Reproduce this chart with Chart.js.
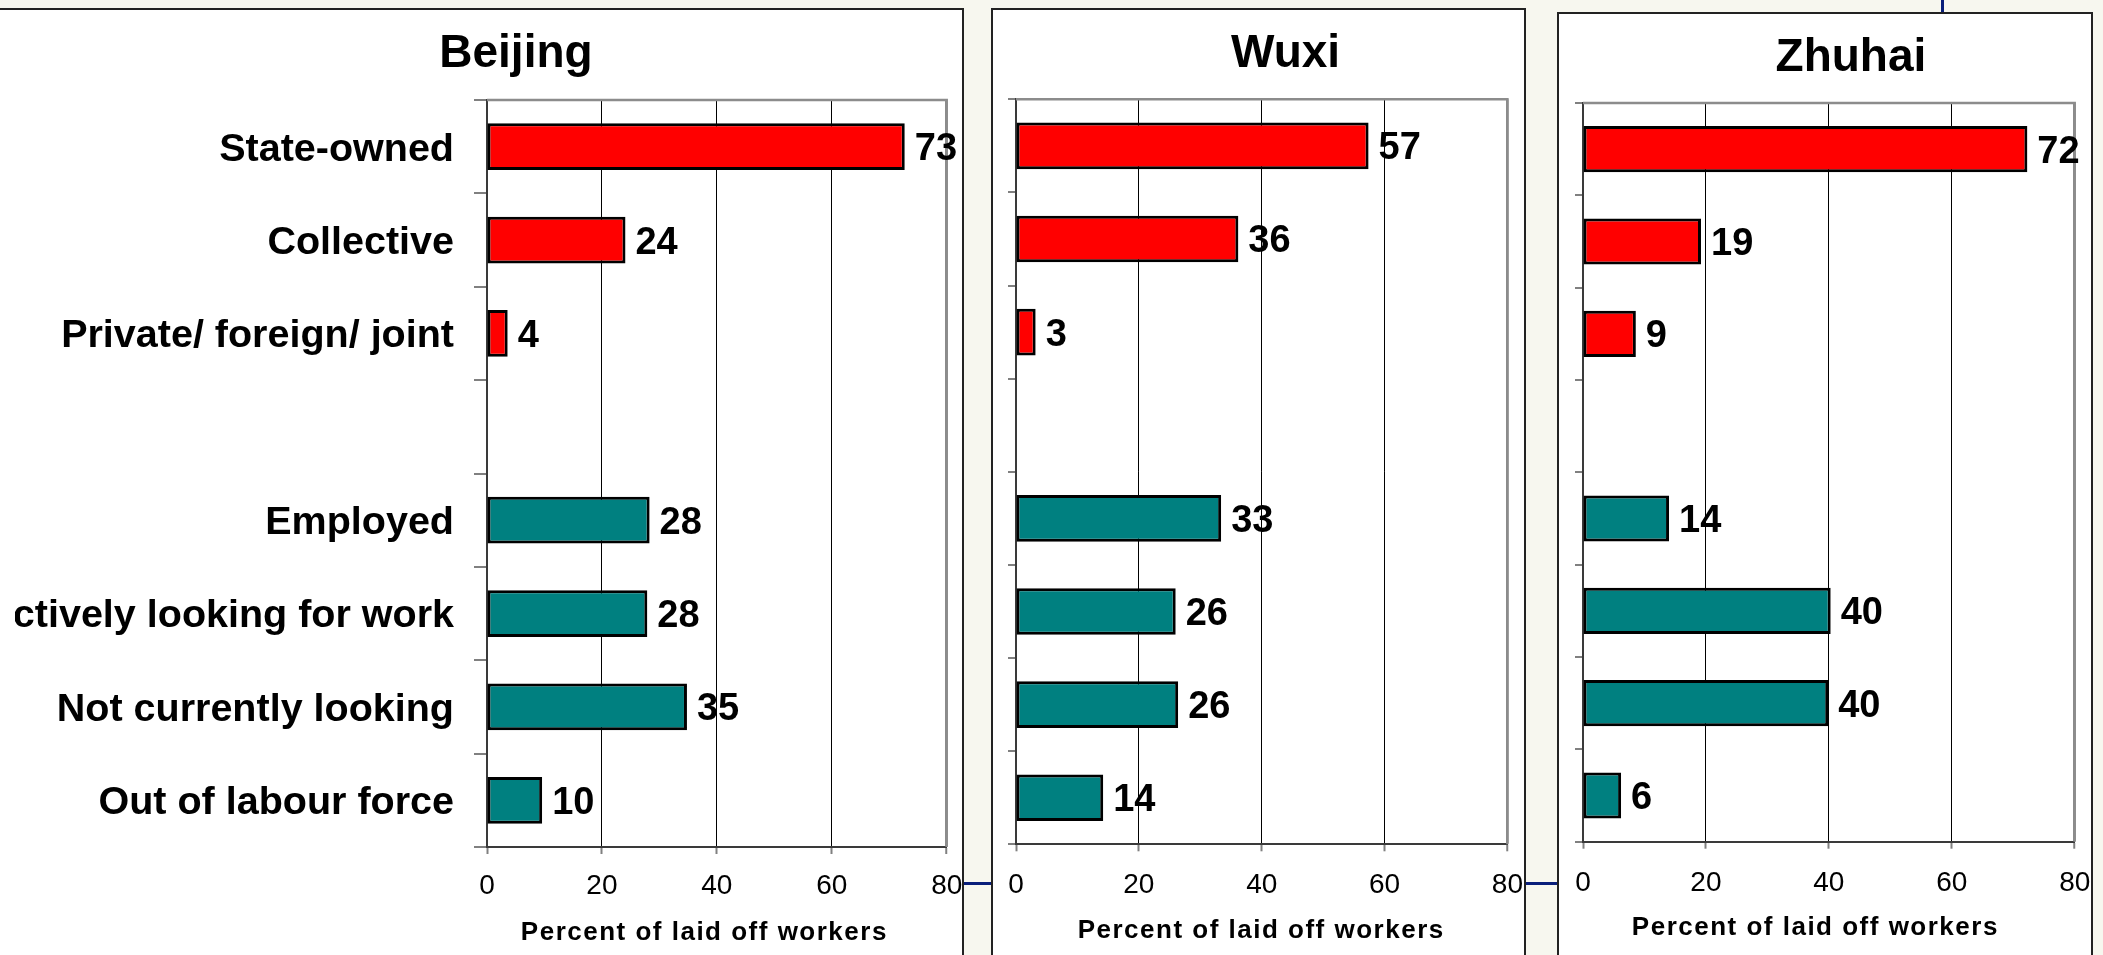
<!DOCTYPE html>
<html>
<head>
<meta charset="utf-8">
<script src="https://cdn.jsdelivr.net/npm/chart.js@4.4.1/dist/chart.umd.min.js"></script>
<style>
  html, body { margin: 0; padding: 0; width: 2103px; height: 955px; overflow: hidden; background: #F7F7EF; }
  .panel { position: absolute; background: #ffffff; border: 2px solid #222; box-sizing: border-box; }
  .cv { position: absolute; }
  .navy { position: absolute; background: #0a1f7a; }
</style>
</head>
<body>
<div class="navy" style="left:1941px; top:0; width:3px; height:14px;"></div>
<div class="navy" style="left:950px; top:882px; width:620px; height:3px;"></div>

<div class="panel" style="left:-10px; top:8px; width:974px; height:960px;"></div>
<div class="panel" style="left:991px; top:8px; width:535px; height:960px;"></div>
<div class="panel" style="left:1557px; top:12px; width:536px; height:960px;"></div>

<canvas id="cBeijing" class="cv" width="962" height="945" style="left:0px; top:10px; clip-path: inset(0 0 0 15px);"></canvas>
<canvas id="cWuxi" class="cv" width="531" height="945" style="left:993px; top:10px;"></canvas>
<canvas id="cZhuhai" class="cv" width="532" height="941" style="left:1559px; top:14px;"></canvas>

<script>
// ---------------- data ----------------
const categories = [
  'State-owned',
  'Collective',
  'Private/ foreign/ joint',
  '',
  'Employed',
  'Actively looking for work',
  'Not currently looking',
  'Out of labour force'
];
const groups = ['ownership', 'ownership', 'ownership', null, 'status', 'status', 'status', 'status'];
const cityNames = ['Beijing', 'Wuxi', 'Zhuhai'];
const beijingValues = [72.7, 24.1, 3.6, null, 28.3, 27.9, 34.8, 9.6];
const wuxiValues    = [57.4, 36.2, 3.2, null, 33.4, 26.0, 26.4, 14.2];
const zhuhaiValues  = [72.3, 19.2, 8.6, null, 14.0, 40.3, 39.9, 6.2];
const xTicks = [0, 20, 40, 60, 80];
const xAxisTitle = 'Percent of laid off workers';

// ---------------- styles ----------------
const FONT = "'Liberation Sans', Arial, Helvetica, sans-serif";
Chart.defaults.font.family = FONT;
const groupColors = { ownership: '#FF0000', status: '#008080' };

const layouts = {
  Beijing: { id: 'cBeijing', values: beijingValues, yW: 487, pr: 15.3, tPadTop: 16.4, tPadBottom: 18.4,
             xH: 108, tickPad: 15.2, xTitlePb: 6.9, titleShift: 42.6, xTitleShift: -12.5, yTick: 13, showLabels: true },
  Wuxi:    { id: 'cWuxi', values: wuxiValues, yW: 23, pr: 16.6, tPadTop: 16.4, tPadBottom: 17.7,
             xH: 110.7, tickPad: 16.9, xTitlePb: 8.4, titleShift: 35.4, xTitleShift: -0.5, yTick: 8, showLabels: false },
  Zhuhai:  { id: 'cZhuhai', values: zhuhaiValues, yW: 24, pr: 16.3, tPadTop: 16.9, tPadBottom: 16.9,
             xH: 113.3, tickPad: 17.8, xTitlePb: 11.1, titleShift: 34.1, xTitleShift: -13.5, yTick: 8, showLabels: false }
};

// ---------------- plugins ----------------
const titleShiftPlugin = {
  id: 'titleShift',
  afterLayout(chart, args, opts) {
    const tb = chart.titleBlock;
    if (tb && opts.shift) { tb.left += opts.shift; tb.right += opts.shift; }
  }
};

const xTitleStylePlugin = {
  id: 'xTitleStyle',
  beforeDraw(chart, args, opts) {
    const sc = chart.scales.x;
    if (sc && !sc._styledTitle) {
      const orig = sc.drawTitle.bind(sc);
      sc.drawTitle = function () {
        const ctx = this.ctx;
        ctx.save();
        try { ctx.letterSpacing = (opts.spacing || 0) + 'px'; } catch (e) {}
        ctx.translate(opts.shift || 0, 0);
        orig();
        ctx.restore();
      };
      sc._styledTitle = true;
    }
  }
};

const plotFramePlugin = {
  id: 'plotFrame',
  beforeDatasetsDraw(chart) {
    const { ctx, chartArea: a } = chart;
    ctx.save();
    ctx.strokeStyle = '#8c8c8c';
    ctx.lineWidth = 2.5;
    ctx.beginPath();
    ctx.moveTo(a.left, a.top);
    ctx.lineTo(a.right, a.top);
    ctx.lineTo(a.right, a.bottom);
    ctx.stroke();
    ctx.restore();
  }
};

const valueLabelPlugin = {
  id: 'valueLabels',
  afterDatasetsDraw(chart, args, opts) {
    const { ctx } = chart;
    const ds = chart.data.datasets[0];
    const meta = chart.getDatasetMeta(0);
    ctx.save();
    ctx.font = 'bold ' + opts.size + 'px ' + FONT;
    ctx.fillStyle = '#000';
    ctx.textAlign = 'left';
    ctx.textBaseline = 'middle';
    meta.data.forEach((bar, i) => {
      const v = ds.data[i];
      if (v === null || v === undefined) return;
      ctx.fillText(String(Math.round(v)), bar.x + opts.offset, bar.y + opts.dy);
    });
    ctx.restore();
  }
};

// ---------------- charts ----------------
function makeChart(city) {
  const L = layouts[city];
  const colors = groups.map(g => g ? groupColors[g] : 'rgba(0,0,0,0)');
  return new Chart(document.getElementById(L.id), {
    type: 'bar',
    data: {
      labels: categories,
      datasets: [{
        data: L.values,
        backgroundColor: colors,
        borderColor: '#000000',
        borderWidth: 3,
        borderSkipped: false,
        barPercentage: 0.5,
        categoryPercentage: 1.0
      }]
    },
    options: {
      indexAxis: 'y',
      responsive: false,
      maintainAspectRatio: false,
      animation: false,
      devicePixelRatio: 1,
      layout: { padding: { left: 0, right: L.pr, top: 0, bottom: 0 } },
      plugins: {
        legend: { display: false },
        tooltip: { enabled: false },
        title: {
          display: true,
          text: city,
          color: '#000',
          font: { family: FONT, size: 46, weight: 'bold', lineHeight: 1.2 },
          padding: { top: L.tPadTop, bottom: L.tPadBottom }
        },
        titleShift: { shift: L.titleShift },
        xTitleStyle: { spacing: 1.5, shift: L.xTitleShift },
        valueLabels: { size: 38, offset: 10, dy: 3 }
      },
      scales: {
        x: {
          type: 'linear',
          min: xTicks[0],
          max: xTicks[xTicks.length - 1],
          afterBuildTicks: s => { s.ticks = xTicks.map(v => ({ value: v })); },
          afterFit: s => { s.height = L.xH; s.paddingLeft = 0; s.paddingRight = 0; },
          ticks: {
            padding: L.tickPad,
            color: '#000',
            font: { family: FONT, size: 28, weight: 'normal' },
            maxRotation: 0,
            autoSkip: false
          },
          grid: {
            drawOnChartArea: true,
            drawTicks: true,
            tickLength: 7,
            tickColor: '#808080',
            tickWidth: 2,
            color: c => (c.tick && c.tick.value === xTicks[xTicks.length - 1]) ? '#8c8c8c' : '#000000',
            lineWidth: c => (c.tick && c.tick.value === xTicks[xTicks.length - 1]) ? 2.5 : 1
          },
          border: { display: true, color: '#3a3a3a', width: 2 },
          title: {
            display: true,
            text: xAxisTitle,
            color: '#000',
            font: { family: FONT, size: 26, weight: 'bold', lineHeight: 1.2 },
            padding: { top: 0, bottom: L.xTitlePb }
          }
        },
        y: {
          type: 'category',
          offset: true,
          afterFit: s => { s.width = L.yW; s.paddingTop = 0; s.paddingBottom = 0; },
          ticks: {
            display: L.showLabels,
            padding: 20,
            labelOffset: 3,
            color: '#000',
            autoSkip: false,
            font: { family: FONT, size: 39.5, weight: 'bold' }
          },
          grid: {
            offset: true,
            drawOnChartArea: false,
            drawTicks: true,
            tickLength: L.yTick,
            color: '#808080',
            lineWidth: 2
          },
          border: { display: true, color: '#3a3a3a', width: 2 }
        }
      }
    },
    plugins: [titleShiftPlugin, xTitleStylePlugin, plotFramePlugin, valueLabelPlugin]
  });
}

cityNames.forEach(makeChart);
</script>
</body>
</html>
